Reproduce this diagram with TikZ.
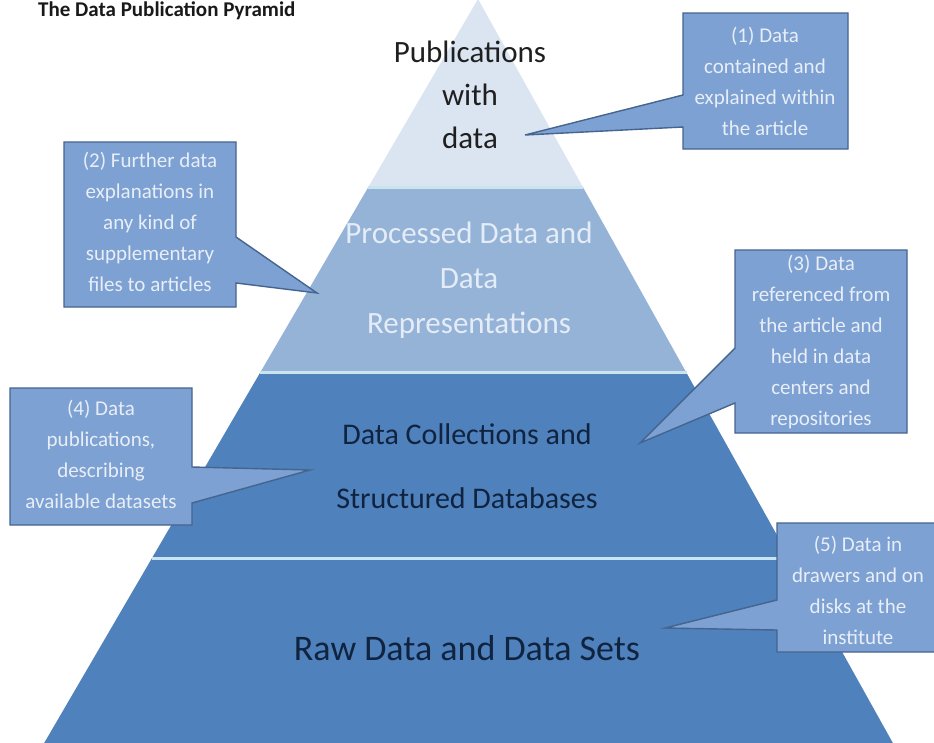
\documentclass[tikz,border=0pt]{standalone}
\usepackage{fontspec}
\setmainfont{Carlito}
\usetikzlibrary{calc}
\definecolor{layerA}{HTML}{DBE5F1}
\definecolor{layerB}{HTML}{95B3D7}
\definecolor{layerC}{HTML}{4F81BD}
\definecolor{sepcol}{HTML}{C8E4EF}
\definecolor{callfill}{HTML}{7DA1D2}
\definecolor{callborder}{HTML}{45648E}
\definecolor{calltext}{HTML}{E8EEF7}
\definecolor{lighttext}{HTML}{E4ECF7}
\definecolor{navy}{HTML}{10233F}
\tikzset{
  layer/.style={draw=none},
  sepline/.style={draw=sepcol, line width=3pt},
  callout/.style={fill=callfill, draw=callborder, line width=1.4pt, line join=miter},
  calltxt/.style={text=calltext, align=center, inner sep=0pt, font=\fontsize{21}{31}\selectfont},
  pyrtxt/.style={align=center, inner sep=0pt}
}
\begin{document}
\begin{tikzpicture}[x=1pt,y=-1pt]
\useasboundingbox (0,0) rectangle (934,742);
\clip (0,0) rectangle (934,742);
\fill[white] (0,0) rectangle (934,742);
% pyramid corners
\coordinate (apex) at (478,-1);
\coordinate (bl) at (43,745);
\coordinate (br) at (894,745);
\coordinate (l1) at ($(apex)!0.2527!(bl)$);
\coordinate (r1) at ($(apex)!0.2527!(br)$);
\coordinate (l2) at ($(apex)!0.5013!(bl)$);
\coordinate (r2) at ($(apex)!0.5013!(br)$);
\coordinate (l3) at ($(apex)!0.7500!(bl)$);
\coordinate (r3) at ($(apex)!0.7500!(br)$);
% layers
\fill[layerA, layer] (apex) -- (r1) -- (l1) -- cycle;
\fill[layerB, layer] (l1) -- (r1) -- (r2) -- (l2) -- cycle;
\fill[layerC, layer] (l2) -- (r2) -- (r3) -- (l3) -- cycle;
\fill[layerC, layer] (l3) -- (r3) -- (br) -- (bl) -- cycle;
\draw[sepline] (l1) -- (r1);
\draw[sepline] (l2) -- (r2);
\draw[sepline] (l3) -- (r3);
% title
\node[anchor=north west, inner sep=0pt, text=black!90, font=\fontsize{21}{25}\selectfont\bfseries] (title) at (38,2) {The Data Publication Pyramid};
% layer texts
\node[pyrtxt, text=black!88, font=\fontsize{31}{43}\selectfont] (t1) at (470,95) {Publications\\with\\data};
\node[pyrtxt, text=lighttext, font=\fontsize{31}{45}\selectfont] (t2) at (469,280) {Processed Data and\\Data\\Representations};
\node[pyrtxt, text=navy, font=\fontsize{30}{64}\selectfont] (t3) at (467,466) {Data Collections and\\Structured Databases};
\node[pyrtxt, text=navy, font=\fontsize{36}{44}\selectfont] (t4) at (467,648) {Raw Data and Data Sets};
% callout tips
\coordinate (tip1) at (525,135);
\coordinate (tip2) at (317,293);
\coordinate (tip3) at (640,443);
\coordinate (tip4) at (310,470);
\coordinate (tip5) at (665,628);
% callout 1
\path[callout] (683,13) -- (848,13) -- (848,149) -- (683,149) -- (683,127) -- (tip1) -- (683,95) -- cycle;
\node[calltxt] (c1) at (765,81) {(1) Data\\contained and\\explained within\\the article};
% callout 2
\path[callout] (64,142) -- (236,142) -- (236,237) -- (tip2) -- (236,283) -- (236,307) -- (64,307) -- cycle;
\node[calltxt] (c2) at (150,222) {(2) Further data\\explanations in\\any kind of\\supplementary\\files to articles};
% callout 3
\path[callout] (735,250) -- (907,250) -- (907,433) -- (735,433) -- (735,403) -- (tip3) -- (735,348) -- cycle;
\node[calltxt] (c3) at (821,342) {(3) Data\\referenced from\\the article and\\held in data\\centers and\\repositories};
% callout 4
\path[callout] (10,388) -- (192,388) -- (192,467) -- (tip4) -- (192,503) -- (192,525) -- (10,525) -- cycle;
\node[calltxt] (c4) at (101,454) {(4) Data\\publications,\\describing\\available datasets};
% callout 5
\path[callout] (777,523) -- (945,523) -- (945,652) -- (777,652) -- (777,630) -- (tip5) -- (777,600) -- cycle;
\node[calltxt] (c5) at (858,590) {(5) Data in\\drawers and on\\disks at the\\institute};
\end{tikzpicture}
\end{document}
